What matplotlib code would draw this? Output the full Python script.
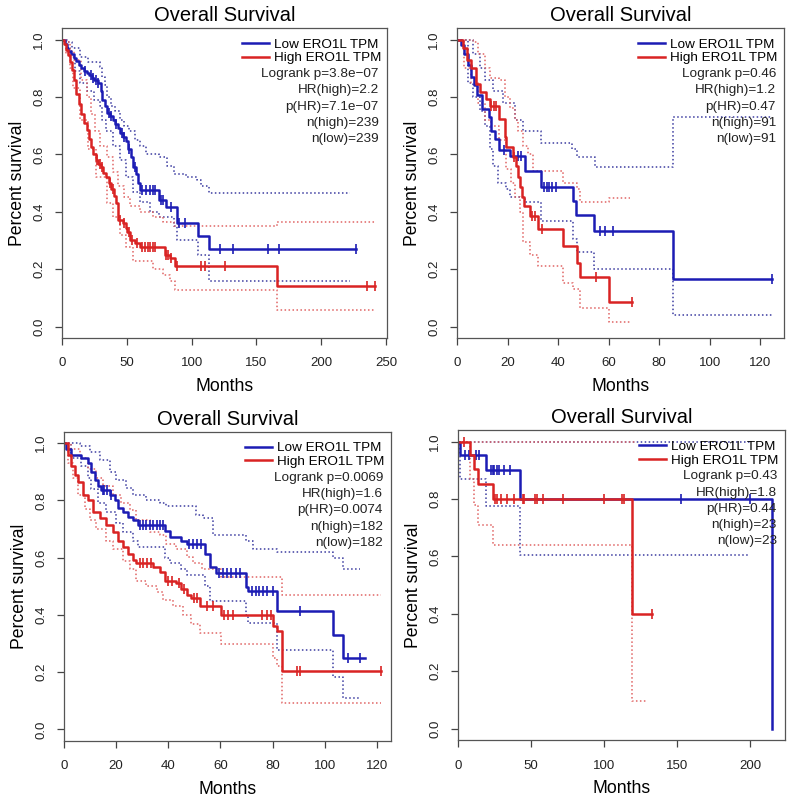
import numpy as np
import matplotlib.pyplot as plt
from matplotlib.lines import Line2D

plt.rcParams['font.family'] = ['Liberation Sans', 'DejaVu Sans']

BLUE = '#1c1cb4'
RED = '#d92323'
BLUE_CI = '#3c3ca0'
RED_CI = '#e06464'

labels = ['Low ERO1L TPM', 'High ERO1L TPM']

# ---- panel 1 ----
p1_low_t = [0, 2, 3.6, 5, 7, 9, 11, 13, 15, 17, 19, 21, 23, 25, 28, 30, 31, 33, 35, 37, 39, 41,
            43, 45, 47, 49, 51, 53, 55, 57, 59, 60.5, 75, 80, 88.5, 105, 113, 227]
p1_low_s = [1.0, 0.985, 0.97, 0.96, 0.95, 0.935, 0.925, 0.91, 0.90, 0.89, 0.885, 0.875, 0.865, 0.86,
            0.85, 0.82, 0.79, 0.77, 0.745, 0.735, 0.72, 0.705, 0.69, 0.675, 0.66, 0.645, 0.62, 0.59,
            0.555, 0.53, 0.50, 0.475, 0.44, 0.415, 0.36, 0.315, 0.27, 0.27]
p1_low_c = [18, 22, 24, 26, 28, 36, 38, 42, 46, 48, 52, 56, 62, 65, 68, 70, 72, 76, 78, 84, 90, 95,
            122, 132, 159, 167, 227]
p1_high_t = [0, 1.5, 3, 4.5, 6, 7.5, 9, 11, 13, 15, 17, 19, 21, 22.5, 24, 26, 28, 30, 32, 34, 36, 38,
             40, 41.5, 43.5, 47, 49, 50.5, 52.5, 56, 60, 79.5, 83.5, 87.5, 165.6, 241.5]
p1_high_s = [1.0, 0.985, 0.965, 0.945, 0.92, 0.895, 0.86, 0.81, 0.775, 0.74, 0.71, 0.685, 0.655, 0.625,
             0.60, 0.58, 0.565, 0.555, 0.535, 0.52, 0.50, 0.48, 0.455, 0.43, 0.37, 0.36, 0.345, 0.33,
             0.30, 0.29, 0.277, 0.25, 0.24, 0.211, 0.14, 0.14]
p1_high_c = [27, 29, 31, 37, 39, 45, 48, 52, 54, 58, 62, 64, 66, 68, 70, 72, 80, 82, 84, 89, 107, 110,
             126, 235, 241.5]
p1_low_up_t = [0, 3.6, 8, 14, 20, 29, 31, 33, 35, 38, 41, 45, 48, 52, 56, 60, 65, 75, 81, 86, 96, 104, 107, 113, 222]
p1_low_up_s = [1.0, 0.99, 0.97, 0.94, 0.92, 0.905, 0.87, 0.84, 0.80, 0.77, 0.75, 0.72, 0.70, 0.68, 0.65,
               0.63, 0.60, 0.59, 0.56, 0.53, 0.52, 0.51, 0.49, 0.464, 0.464]
p1_low_lo_t = [0, 3, 6, 10, 14, 19, 25, 29, 31, 34, 39, 45, 49, 55, 60, 68, 75, 86, 88.5, 105, 113, 222]
p1_low_lo_s = [1.0, 0.97, 0.94, 0.89, 0.85, 0.82, 0.79, 0.77, 0.72, 0.68, 0.63, 0.58, 0.52, 0.47, 0.435,
               0.40, 0.38, 0.35, 0.30, 0.25, 0.16, 0.16]
p1_high_up_t = [0, 3, 6, 9, 15, 19, 22, 25.5, 29.5, 34.5, 39.5, 43.5, 47.5, 52.5, 60, 70, 78, 86, 165.6, 241.5]
p1_high_up_s = [1.0, 0.99, 0.96, 0.93, 0.86, 0.80, 0.74, 0.68, 0.63, 0.59, 0.54, 0.49, 0.45, 0.42, 0.40,
                0.38, 0.363, 0.35, 0.365, 0.365]
p1_high_lo_t = [0, 3, 6, 8.5, 14, 20, 26, 34.5, 39.5, 44.5, 49.5, 55, 70, 78, 83.5, 87.5, 165.6, 241.5]
p1_high_lo_s = [1.0, 0.95, 0.90, 0.83, 0.72, 0.62, 0.52, 0.43, 0.38, 0.32, 0.277, 0.23, 0.20, 0.18, 0.16,
                0.128, 0.056, 0.056]
p1_stats = ['Logrank p=3.8e\u221207', 'HR(high)=2.2', 'p(HR)=7.1e\u221207', 'n(high)=239', 'n(low)=239']
p1_xticks = [0, 50, 100, 150, 200, 250]

# ---- panel 2 ----
p2_low_t = [0, 1.6, 2.9, 4.2, 5.6, 6.9, 8, 10, 12.6, 13.5, 14.9, 16.8, 20.8, 26.8, 33.2, 45.8, 47.1,
            54.2, 85.3, 124.5]
p2_low_s = [1.0, 0.98, 0.95, 0.91, 0.87, 0.84, 0.805, 0.758, 0.729, 0.683, 0.653, 0.616, 0.595, 0.542,
            0.485, 0.438, 0.388, 0.334, 0.165, 0.165]
p2_low_c = [18.5, 24, 25.5, 34.5, 35.5, 36.5, 37.5, 39, 56.6, 58.6, 61.7, 124.5]
p2_high_t = [0, 2.3, 4, 5.6, 7.6, 8.9, 11.5, 12.9, 16.8, 18.8, 19.5, 22.1, 23.2, 24.1, 25, 25.9, 26.4,
             28.8, 32.1, 42, 47.3, 48.7, 60.2, 69.2]
p2_high_s = [1.0, 0.97, 0.93, 0.90, 0.845, 0.816, 0.793, 0.77, 0.723, 0.659, 0.624, 0.59, 0.56, 0.52,
             0.485, 0.45, 0.421, 0.384, 0.34, 0.28, 0.223, 0.171, 0.084, 0.084]
p2_high_c = [13.5, 14.5, 15.5, 22.5, 29.5, 31, 33.5, 55, 69.2]
p2_low_up_t = [0, 6.2, 8.9, 10.9, 14.2, 18.2, 22.8, 26.1, 33.2, 45.4, 47.3, 54.6, 85.3, 124.5]
p2_low_up_s = [1.0, 0.95, 0.90, 0.86, 0.82, 0.78, 0.72, 0.68, 0.64, 0.62, 0.59, 0.555, 0.729, 0.729]
p2_low_lo_t = [0, 4.2, 6.2, 8.9, 10.9, 12.9, 14.2, 16.2, 19.5, 20.8, 26.8, 33.2, 45.8, 47.3, 54.2, 85.3, 124.5]
p2_low_lo_s = [1.0, 0.85, 0.80, 0.75, 0.70, 0.62, 0.56, 0.50, 0.48, 0.45, 0.433, 0.369, 0.305, 0.258,
               0.202, 0.04, 0.04]
p2_high_up_t = [0, 6.2, 8.2, 10.9, 12.9, 16.8, 18.8, 20.8, 22.8, 24.1, 26.1, 28.1, 30.1, 42, 47.3, 48.7, 60.2, 68.5]
p2_high_up_s = [1.0, 0.99, 0.95, 0.90, 0.866, 0.86, 0.80, 0.76, 0.72, 0.68, 0.63, 0.60, 0.543, 0.50,
                0.48, 0.433, 0.448, 0.448]
p2_high_lo_t = [0, 2.9, 5.6, 8.2, 10.9, 13.5, 16.8, 19.5, 21.5, 22.8, 24.8, 26.1, 28.8, 32.1, 42, 46,
                48.7, 60.2, 68.5]
p2_high_lo_s = [1.0, 0.90, 0.85, 0.78, 0.72, 0.70, 0.65, 0.55, 0.50, 0.45, 0.40, 0.293, 0.25, 0.21,
                0.15, 0.13, 0.066, 0.015, 0.015]
p2_stats = ['Logrank p=0.46', 'HR(high)=1.2', 'p(HR)=0.47', 'n(high)=91', 'n(low)=91']
p2_xticks = [0, 20, 40, 60, 80, 100, 120]

# ---- panel 3 ----
p3_low_t = [0, 0.9, 2.8, 6.7, 9.2, 10.5, 11.8, 13.1, 14.3, 17.5, 19.5, 20.7, 22.7, 24.6, 26.5, 28.4,
            38.7, 40.6, 45, 47, 54, 56, 58.5, 70, 70.7, 81.6, 103.3, 107.2, 115.5]
p3_low_s = [1.0, 0.98, 0.96, 0.95, 0.93, 0.90, 0.871, 0.85, 0.837, 0.82, 0.80, 0.775, 0.759, 0.742,
            0.73, 0.713, 0.695, 0.672, 0.66, 0.647, 0.612, 0.568, 0.547, 0.498, 0.484, 0.415, 0.33,
            0.249, 0.249]
p3_low_c = [14.8, 15.5, 16.5, 18, 29, 30.5, 31.5, 33, 34, 35.5, 37, 37.8, 48, 49.5, 51, 52.5, 59.5,
            61, 62.5, 64, 66, 67.5, 72, 73.5, 75, 76.5, 78, 80, 90.5, 109, 113.6]
p3_high_t = [0, 1.5, 2.8, 4.1, 5.4, 7.3, 9.2, 11.1, 13.7, 16.3, 18.8, 20.7, 22.7, 24.6, 26.5, 27.8,
             34.2, 36.7, 38.7, 43, 45, 47, 48.9, 52, 60.4, 80.3, 81.6, 83.5, 121.6]
p3_high_s = [1.0, 0.96, 0.92, 0.89, 0.863, 0.82, 0.80, 0.76, 0.739, 0.713, 0.69, 0.66, 0.637, 0.614,
             0.591, 0.58, 0.568, 0.55, 0.52, 0.51, 0.492, 0.47, 0.458, 0.431, 0.40, 0.36, 0.344,
             0.203, 0.203]
p3_high_c = [29, 30.5, 32, 33.5, 40, 41.5, 44, 46, 50, 51, 55, 57, 61.5, 63, 65, 76, 78, 79.5, 89.2,
             90.5, 121.6]
p3_low_up_t = [0, 6, 9.9, 13.7, 17.5, 20.1, 23.9, 26.5, 31.6, 36.8, 39.3, 50.8, 53.4, 57.2, 70, 72.6,
               81.6, 103.3, 107.2, 113.6]
p3_low_up_s = [1.0, 0.99, 0.97, 0.94, 0.90, 0.87, 0.843, 0.82, 0.80, 0.79, 0.78, 0.75, 0.74, 0.68,
               0.66, 0.63, 0.62, 0.60, 0.562, 0.562]
p3_low_lo_t = [0, 2.8, 6.7, 9.2, 10.5, 13.1, 16.3, 20.1, 22.7, 26.5, 28.4, 38.7, 40.6, 45, 47, 54, 56,
               70, 70.7, 81.6, 103.3, 107.2, 113.6]
p3_low_lo_s = [1.0, 0.95, 0.92, 0.88, 0.84, 0.79, 0.76, 0.72, 0.69, 0.66, 0.637, 0.60, 0.58, 0.56,
               0.54, 0.50, 0.45, 0.40, 0.373, 0.278, 0.185, 0.11, 0.11]
p3_high_up_t = [0, 2.8, 6, 9.2, 12.4, 15, 18.8, 22, 25.2, 27.8, 32.9, 36.7, 39.3, 43.1, 47, 49.6, 52.8,
                60.4, 83.5, 121.6]
p3_high_up_s = [1.0, 0.98, 0.95, 0.91, 0.88, 0.85, 0.82, 0.79, 0.765, 0.73, 0.69, 0.68, 0.649, 0.63,
                0.603, 0.58, 0.562, 0.533, 0.47, 0.47]
p3_high_lo_t = [0, 1.5, 3.5, 5.4, 8, 9.9, 12.4, 16.3, 18.8, 22.7, 25.2, 27.8, 31.6, 35.5, 38, 41.9,
                45.7, 48.9, 52.1, 60.4, 80.3, 81.6, 83.5, 121.6]
p3_high_lo_s = [1.0, 0.93, 0.88, 0.82, 0.77, 0.73, 0.70, 0.66, 0.63, 0.59, 0.56, 0.52, 0.50, 0.48,
                0.452, 0.43, 0.40, 0.37, 0.336, 0.30, 0.25, 0.22, 0.093, 0.093]
p3_stats = ['Logrank p=0.0069', 'HR(high)=1.6', 'p(HR)=0.0074', 'n(high)=182', 'n(low)=182']
p3_xticks = [0, 20, 40, 60, 80, 100, 120]

# ---- panel 4 ----
p4_low_t = [0, 1.6, 19.4, 42.3, 215.3]
p4_low_s = [1.0, 0.955, 0.90, 0.80, 0.0]
p4_low_c = [4.6, 7.3, 12.6, 14.2, 22.9, 24, 25, 26.4, 27.9, 31.3, 35.9, 153, 200]
p4_high_t = [0, 8.5, 11.2, 13.7, 23.8, 119.3, 132.6]
p4_high_s = [1.0, 0.953, 0.903, 0.852, 0.80, 0.40, 0.40]
p4_high_c = [3.9, 25.1, 26.7, 29.5, 33.6, 38.6, 44.6, 45.5, 53, 54.2, 58.3, 72, 100.3, 112.5, 113.7, 132.6]
p4_low_up_t = [0, 200]
p4_low_up_s = [1.0, 1.0]
p4_low_lo_t = [0, 1.6, 19.4, 42.3, 200]
p4_low_lo_s = [1.0, 0.87, 0.776, 0.605, 0.605]
p4_high_up_t = [0, 122]
p4_high_up_s = [1.0, 1.0]
p4_high_lo_t = [0, 8.5, 11.2, 13.7, 23.8, 119.3, 129.5]
p4_high_lo_s = [1.0, 0.87, 0.78, 0.709, 0.64, 0.095, 0.095]
p4_stats = ['Logrank p=0.43', 'HR(high)=1.8', 'p(HR)=0.44', 'n(high)=23', 'n(low)=23']
p4_xticks = [0, 50, 100, 150, 200]


def surv_at(t, s, tc):
    idx = np.searchsorted(t, tc, side='right') - 1
    return np.asarray(s)[idx]


def km_panel(ax, low, high, low_ci, high_ci, stats, xticks, xmax):
    # confidence bands (dotted)
    for (t, s), col in [(low_ci[0], BLUE_CI), (low_ci[1], BLUE_CI),
                        (high_ci[0], RED_CI), (high_ci[1], RED_CI)]:
        ax.step(t, s, where='post', color=col, lw=1.1, ls=(0, (1, 1.6)))
    for (t, s, c), col in [(low, BLUE), (high, RED)]:
        ax.step(t, s, where='post', color=col, lw=1.8)
        ax.plot(c, surv_at(t, s, c), ls='none', marker='|', ms=7, mew=1.2, color=col)

    ax.set_xlim(0, xmax)
    ax.set_ylim(-0.04, 1.04)
    ax.set_xticks(xticks)
    ax.set_yticks([0, 0.2, 0.4, 0.6, 0.8, 1.0])
    ax.set_yticklabels(['0.0', '0.2', '0.4', '0.6', '0.8', '1.0'], rotation=90, va='center')
    ax.tick_params(direction='out', length=5, width=0.9, colors='#444444', labelcolor='#222222',
                   labelsize=9.5, pad=7)
    ax.tick_params(axis='x', pad=9)
    for sp in ax.spines.values():
        sp.set_color('#555555')
        sp.set_linewidth(0.9)
    ax.set_title('Overall Survival', fontsize=14.5, pad=5)
    ax.set_xlabel('Months', fontsize=12.7, labelpad=6)
    ax.set_ylabel('Percent survival', fontsize=12.7, labelpad=5)

    handles = [Line2D([], [], color=BLUE, lw=1.8), Line2D([], [], color=RED, lw=1.8)]
    ax.legend(handles, labels, loc='upper left', bbox_to_anchor=(0.553, 0.967), frameon=False,
              fontsize=9.7, handlelength=2.0, handletextpad=0.4, labelspacing=0.1,
              borderpad=0, borderaxespad=0)
    for i, txt in enumerate(stats):
        ax.text(0.975, 0.851 - i * 0.0525, txt, transform=ax.transAxes, ha='right', va='center',
                fontsize=9.7, color='#222222')


fig = plt.figure(figsize=(7.94, 8.01), dpi=100)
ax1 = fig.add_axes([0.0781, 0.578, 0.409, 0.387])
ax2 = fig.add_axes([0.5756, 0.578, 0.412, 0.387])
ax3 = fig.add_axes([0.0806, 0.075, 0.412, 0.386])
ax4 = fig.add_axes([0.5768, 0.076, 0.412, 0.387])

km_panel(ax1, (p1_low_t, p1_low_s, p1_low_c), (p1_high_t, p1_high_s, p1_high_c),
         [(p1_low_up_t, p1_low_up_s), (p1_low_lo_t, p1_low_lo_s)],
         [(p1_high_up_t, p1_high_up_s), (p1_high_lo_t, p1_high_lo_s)],
         p1_stats, p1_xticks, 250.5)
km_panel(ax2, (p2_low_t, p2_low_s, p2_low_c), (p2_high_t, p2_high_s, p2_high_c),
         [(p2_low_up_t, p2_low_up_s), (p2_low_lo_t, p2_low_lo_s)],
         [(p2_high_up_t, p2_high_up_s), (p2_high_lo_t, p2_high_lo_s)],
         p2_stats, p2_xticks, 129.5)
km_panel(ax3, (p3_low_t, p3_low_s, p3_low_c), (p3_high_t, p3_high_s, p3_high_c),
         [(p3_low_up_t, p3_low_up_s), (p3_low_lo_t, p3_low_lo_s)],
         [(p3_high_up_t, p3_high_up_s), (p3_high_lo_t, p3_high_lo_s)],
         p3_stats, p3_xticks, 125.5)
km_panel(ax4, (p4_low_t, p4_low_s, p4_low_c), (p4_high_t, p4_high_s, p4_high_c),
         [(p4_low_up_t, p4_low_up_s), (p4_low_lo_t, p4_low_lo_s)],
         [(p4_high_up_t, p4_high_up_s), (p4_high_lo_t, p4_high_lo_s)],
         p4_stats, p4_xticks, 224)

fig.savefig('out.png', dpi=100)
